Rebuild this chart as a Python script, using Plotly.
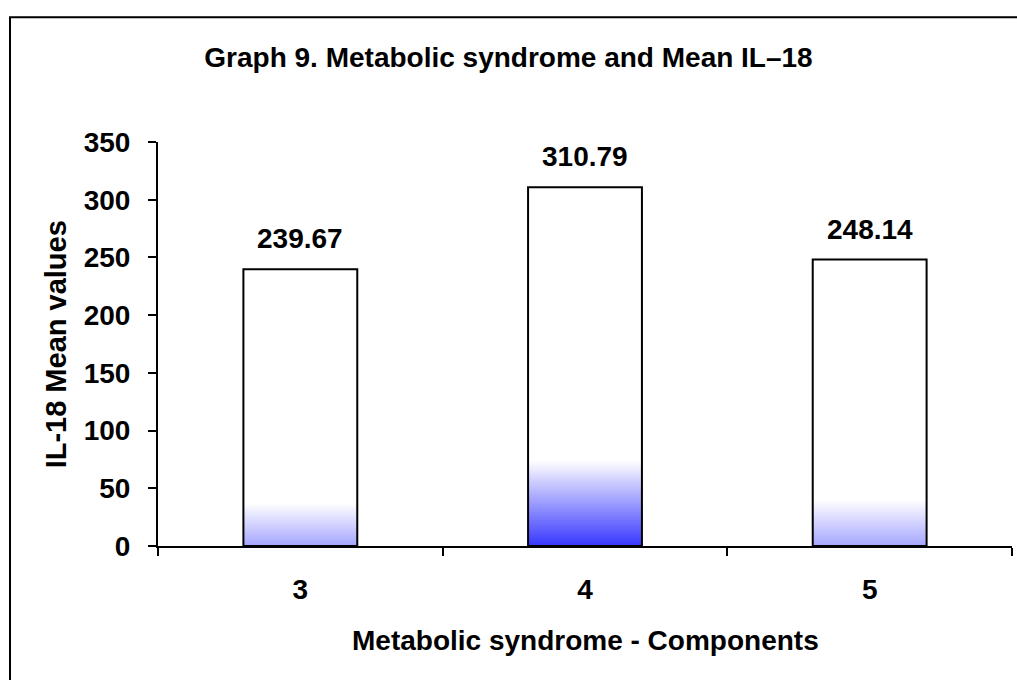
import plotly.graph_objects as go

# ---- data ----
categories = ["3", "4", "5"]
mean_il18 = [239.67, 310.79, 248.14]
value_labels = ["239.67", "310.79", "248.14"]
y_ticks = [0, 50, 100, 150, 200, 250, 300, 350]

# ---- style ----
FONT = "Arial, Liberation Sans, sans-serif"
BAR_W = 0.4
grad_height = [37, 74, 40]             # data units where blue fades to white
grad_bottom = [(165, 165, 255), (55, 55, 255), (165, 165, 255)]
N_SEG = 40
label_shift = [13, 13, 13]

fig = go.Figure()

# white body of the bars
fig.add_trace(go.Bar(x=categories, y=mean_il18, width=BAR_W,
                     marker=dict(color="white", line=dict(width=0)),
                     hoverinfo="skip", showlegend=False))

# gradient at the bottom of each bar: nested bars from base 0,
# tallest/lightest first, shortest/darkest last
for j in range(N_SEG):
    heights, colors = [], []
    for i in range(len(categories)):
        heights.append(grad_height[i] * (N_SEG - j) / N_SEG)
        t = (N_SEG - j - 0.5) / N_SEG
        r, g, b = grad_bottom[i]
        colors.append("rgb(%d,%d,%d)" % (round(r + (255 - r) * t),
                                          round(g + (255 - g) * t),
                                          round(b + (255 - b) * t)))
    fig.add_trace(go.Bar(x=categories, y=heights, width=BAR_W,
                         marker=dict(color=colors, line=dict(width=0)),
                         hoverinfo="skip", showlegend=False))

# outline
fig.add_trace(go.Bar(x=categories, y=mean_il18, width=BAR_W,
                     marker=dict(color="rgba(0,0,0,0)",
                                 line=dict(color="black", width=2)),
                     showlegend=False))

# value labels (category axis: use index positions)
for i, c in enumerate(categories):
    fig.add_annotation(x=i, y=mean_il18[i], text=value_labels[i],
                       showarrow=False, yanchor="bottom", yshift=label_shift[i],
                       font=dict(family=FONT, size=28, color="black"))

# axis titles
fig.add_annotation(xref="paper", yref="paper", x=0.5, y=-0.235,
                   text="Metabolic syndrome - Components", showarrow=False,
                   yanchor="middle", font=dict(family=FONT, size=28, color="black"))
fig.add_annotation(xref="paper", yref="paper", x=-0.119, y=0.5, textangle=-90,
                   text="IL-18 Mean values", showarrow=False,
                   xanchor="center", font=dict(family=FONT, size=29, color="black"))

# outer frame
fig.add_shape(type="rect", xref="paper", yref="paper",
              x0=-0.1733, x1=1.2, y0=-0.6, y1=1.309,
              line=dict(color="black", width=2), fillcolor="rgba(0,0,0,0)")

fig.update_layout(
    width=1017, height=680,
    margin=dict(l=158, r=5, t=142, b=134),
    paper_bgcolor="white", plot_bgcolor="white",
    barmode="overlay",
    font=dict(family=FONT, size=28, color="black"),
    title=dict(text="<b>Graph 9. Metabolic syndrome and Mean IL–18</b>",
               x=0.5, xref="container", xanchor="center",
               y=1 - 57 / 680, yref="container", yanchor="middle",
               font=dict(family=FONT, size=28, color="black")),
    xaxis=dict(type="category", range=[-0.5, 2.5], tickson="boundaries",
               ticks="outside", ticklen=8, tickwidth=2, tickcolor="black",
               showline=True, linecolor="black", linewidth=2,
               showgrid=False, zeroline=False, ticklabelstandoff=17,
               tickfont=dict(family=FONT, size=28, color="black")),
    yaxis=dict(range=[0, 350], tickvals=y_ticks, ticks="outside",
               ticklen=8, tickwidth=2, tickcolor="black",
               showline=True, linecolor="black", linewidth=2,
               showgrid=False, zeroline=False, ticklabelstandoff=12,
               tickfont=dict(family=FONT, size=28, color="black")),
)

# bold text everywhere
fig.update_layout(font_weight="bold")
fig.update_xaxes(tickfont_weight="bold")
fig.update_yaxes(tickfont_weight="bold")
for a in fig.layout.annotations:
    a.font.weight = "bold"

fig.write_html("out.html")
